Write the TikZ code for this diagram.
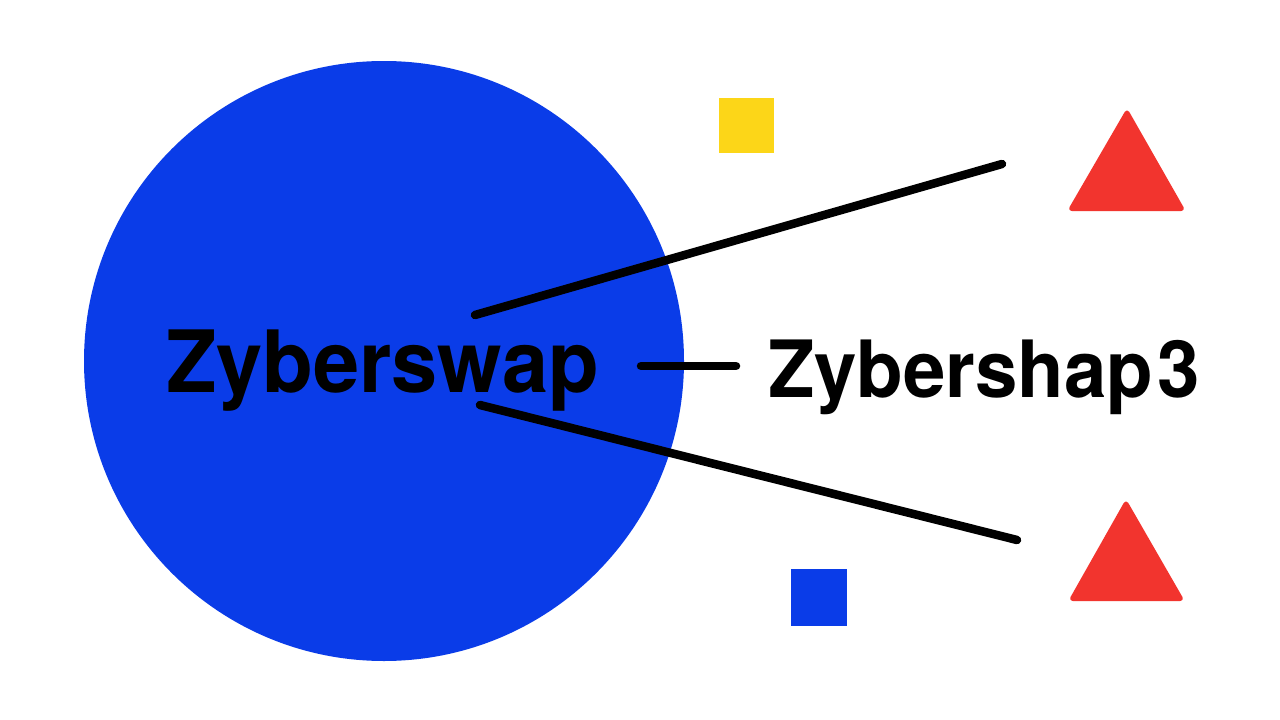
\documentclass[tikz,border=0pt]{standalone}
\usepackage{fontspec}
\newfontfamily\narrowheros[FakeStretch=0.965]{TeX Gyre Heros}
\definecolor{zblue}{RGB}{10,60,232}
\definecolor{zyellow}{RGB}{252,214,24}
\definecolor{zred}{RGB}{242,52,46}
\begin{document}
\begin{tikzpicture}[x=1pt,y=-1pt,
  connector/.style={line width=8.5pt,line cap=round,black},
  tri/.style={fill=#1,draw=#1,line width=2pt,line join=round,rounded corners=3pt},
  sq/.style={fill=#1}]
\useasboundingbox (0,0) rectangle (1280,720);
\fill[white] (0,0) rectangle (1280,720);
% big circle
\fill[zblue] (384,361) circle[radius=300];
% squares
\fill[sq=zyellow] (719,98) rectangle (774,153);
\fill[sq=zblue] (791,569) rectangle (847,626);
% triangles
\filldraw[tri=zred] (1127,110) -- (1184,210) -- (1069,210) -- cycle;
\filldraw[tri=zred] (1126,501) -- (1183,600) -- (1070,600) -- cycle;
% texts
\node[anchor=base west,inner sep=0,font=\narrowheros\bfseries\fontsize{86}{86}\selectfont] (main) at (166,392) {Zyberswap};
\node[anchor=base west,inner sep=0,font=\narrowheros\bfseries\fontsize{79}{79}\selectfont] (side) at (768,397) {Zybershap\kern4pt3};
% connector end points
\coordinate (a1) at (475,315);
\coordinate (a2) at (1002,164);
\coordinate (b1) at (480,405);
\coordinate (b2) at (1017,540);
\coordinate (c1) at (641,366);
\coordinate (c2) at (736,366);
\draw[connector] (a1) -- (a2);
\draw[connector] (b1) -- (b2);
\draw[connector] (c1) -- (c2);
\end{tikzpicture}
\end{document}
